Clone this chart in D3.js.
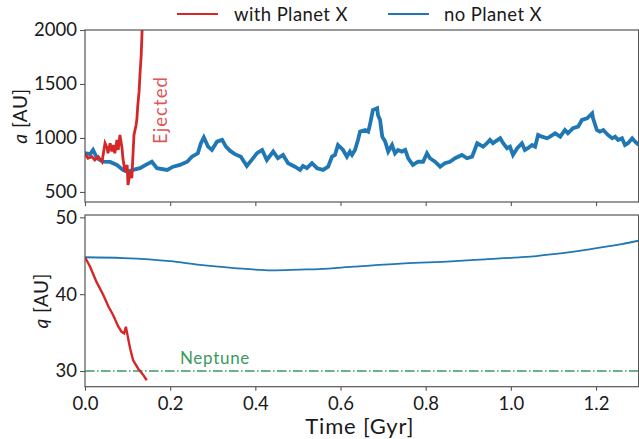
<!DOCTYPE html>
<html><head><meta charset="utf-8">
<script src="https://cdn.jsdelivr.net/npm/d3@7"></script>
<style>body{margin:0;background:#fff}svg{display:block;font-family:Lato,"Open Sans",sans-serif}</style>
</head><body><svg id="c" width="639" height="439"></svg>
<script>
// ---- data ----
const tBlueA = [0,0.002,0.012,0.019,0.028,0.035,0.042,0.059,0.075,0.089,0.099,0.113,0.129,0.146,0.157,0.169,0.193,0.207,0.223,0.240,0.251,0.265,0.272,0.279,0.289,0.298,0.310,0.322,0.331,0.341,0.352,0.366,0.380,0.392,0.404,0.416,0.427,0.442,0.453,0.465,0.477,0.493,0.505,0.512,0.521,0.533,0.545,0.559,0.571,0.580,0.587,0.594,0.606,0.615,0.622,0.627,0.634,0.641,0.646,0.658,0.665,0.669,0.676,0.686,0.688,0.693,0.698,0.705,0.712,0.721,0.728,0.735,0.744,0.752,0.759,0.770,0.782,0.794,0.803,0.810,0.822,0.834,0.845,0.857,0.869,0.885,0.897,0.909,0.921,0.928,0.935,0.944,0.951,0.958,0.963,0.975,0.982,0.991,0.998,1.005,1.015,1.026,1.033,1.040,1.050,1.057,1.064,1.073,1.085,1.092,1.104,1.116,1.127,1.134,1.146,1.158,1.167,1.179,1.191,1.193,1.202,1.209,1.217,1.228,1.238,1.245,1.252,1.261,1.268,1.275,1.285,1.292,1.300];
const aBlue = [850,858,850,889,815,796,780,778,750,704,688,704,720,757,780,720,704,734,750,780,827,858,950,1005,920,890,966,982,920,880,850,827,741,800,860,889,796,874,812,843,766,734,704,741,720,766,720,704,734,827,843,935,889,827,874,843,889,982,1059,1074,1059,1120,1259,1275,1213,1167,1012,966,874,935,858,889,874,889,812,750,780,780,858,812,780,734,766,780,812,843,812,827,951,935,920,951,982,951,966,997,951,905,920,843,905,951,889,905,935,920,1028,1012,997,1012,1043,1012,1074,1043,1090,1105,1167,1182,1228,1182,1074,1059,1074,1028,997,1012,982,997,935,951,997,966,935];
const tRedA = [0,0.002,0.007,0.016,0.023,0.031,0.040,0.047,0.052,0.054,0.059,0.063,0.066,0.070,0.075,0.078,0.082,0.087,0.089,0.094,0.099,0.101,0.106,0.110,0.113,0.115,0.120,0.122,0.124,0.127,0.129,0.132,0.134,0.136];
const aRed = [860,843,812,827,796,827,780,951,905,858,951,874,935,858,982,889,1028,905,812,688,750,565,688,627,874,1028,1120,1182,1305,1429,1583,1768,1985,2150];
const tBlueQ = [0,0.09,0.2,0.27,0.35,0.44,0.505,0.55,0.63,0.75,0.86,0.94,1.02,1.06,1.10,1.18,1.26,1.30];
const qBlue = [44.8,44.7,44.3,43.8,43.4,43.1,43.2,43.27,43.57,44.0,44.27,44.53,44.79,44.96,45.2,45.8,46.5,46.95];
const tRedQ = [0,0.012,0.027,0.043,0.055,0.066,0.078,0.086,0.092,0.096,0.099,0.106,0.113,0.125,0.137,0.145];
const qRed = [44.8,43.57,41.6,39.9,38.4,37.3,35.8,35.1,34.9,35.76,34.9,32.94,31.4,30.3,29.47,28.8];
const neptuneQ = 30;
const xTicks = [0,0.2,0.4,0.6,0.8,1.0,1.2];
const aTicks = [500,1000,1500,2000];
const qTicks = [30,40,50];
const legendLabels = ["with Planet X","no Planet X"];

// ---- layout ----
const svg = d3.select("#c");
const L = 85, R = 638.6;
const top1 = 30, bot1 = 202, top2 = 215, bot2 = 386.7;
const RED = "#d62728", BLUE = "#1f77b4", GREEN = "#3a9a5c", SPINE = "#555", TXT = "#1a1a1a";
const x = d3.scaleLinear().domain([0,1.3]).range([L,R]);
const yA = d3.scaleLinear().domain([407,2000]).range([bot1,top1]);
const yQ = d3.scaleLinear().domain([27.96,50.3]).range([bot2,top2]);
const FS = "18.5px";

const defs = svg.append("defs");
defs.append("clipPath").attr("id","clipA").append("rect").attr("x",L).attr("y",top1).attr("width",R-L).attr("height",bot1-top1);
defs.append("clipPath").attr("id","clipQ").append("rect").attr("x",L).attr("y",top2).attr("width",R-L).attr("height",bot2-top2);

function styleAxis(g){
  g.select(".domain").remove();
  g.selectAll(".tick line").attr("stroke",SPINE).attr("stroke-width",1.1);
  g.selectAll(".tick text").attr("fill",TXT).style("font-size",FS).style("font-family","Lato");
}
// top panel axes
svg.append("g").attr("transform",`translate(${L},0)`).call(d3.axisLeft(yA).tickValues(aTicks).tickSize(5).tickPadding(3).tickFormat(d3.format("d"))).call(styleAxis);
svg.append("g").attr("transform",`translate(0,${bot1})`).call(d3.axisBottom(x).tickValues(xTicks).tickSize(4).tickFormat("")).call(styleAxis);
// bottom panel axes
svg.append("g").attr("transform",`translate(${L},0)`).call(d3.axisLeft(yQ).tickValues(qTicks).tickSize(5).tickPadding(3).tickFormat(d3.format("d"))).call(styleAxis);
svg.append("g").attr("transform",`translate(0,${bot2})`).call(d3.axisBottom(x).tickValues(xTicks).tickSize(4).tickPadding(6).tickFormat(d3.format(".1f"))).call(styleAxis);

// lines
const lineA = (ts,vs)=>d3.line().x((d,i)=>x(ts[i])).y(d=>yA(d))(vs);
const lineQ = (ts,vs,c)=>d3.line().x((d,i)=>x(ts[i])).y(d=>yQ(d)).curve(c||d3.curveLinear)(vs);
const gA = svg.append("g").attr("clip-path","url(#clipA)");
gA.append("path").attr("d",lineA(tBlueA,aBlue)).attr("fill","none").attr("stroke",BLUE).attr("stroke-width",3.8);
gA.append("path").attr("d",lineA(tRedA,aRed)).attr("fill","none").attr("stroke",RED).attr("stroke-width",2.8);
const gQ = svg.append("g").attr("clip-path","url(#clipQ)");
gQ.append("path").attr("d",d3.line().x(x).y(()=>yQ(neptuneQ))([0,1.3])).attr("fill","none").attr("stroke",GREEN).attr("stroke-width",1.6).attr("stroke-dasharray","9.6,2.4,1.6,2.4");
gQ.append("path").attr("d",lineQ(tBlueQ,qBlue,d3.curveMonotoneX)).attr("fill","none").attr("stroke",BLUE).attr("stroke-width",1.8);
gQ.append("path").attr("d",lineQ(tRedQ,qRed)).attr("fill","none").attr("stroke",RED).attr("stroke-width",2.4);

// spines
[[top1,bot1],[top2,bot2]].forEach(([t,b])=>{
  svg.append("rect").attr("x",L).attr("y",t).attr("width",R-L).attr("height",b-t).attr("fill","none").attr("stroke",SPINE).attr("stroke-width",1.2);
});

// annotations
svg.append("text").attr("transform",`translate(167,110) rotate(-90)`).attr("text-anchor","middle").attr("fill",RED).attr("fill-opacity",0.8).style("font-size","18.5px").style("letter-spacing","1.1px").text("Ejected");
svg.append("text").attr("x",x(0.223)).attr("y",yQ(30.9)).attr("fill",GREEN).style("font-size","17px").style("letter-spacing","0.7px").text("Neptune");

// axis labels
const al = svg.append("text").attr("transform",`translate(27,${(top1+bot1)/2}) rotate(-90)`).attr("text-anchor","middle").attr("fill",TXT).style("font-size","19px").style("letter-spacing","0.5px");
al.append("tspan").attr("font-style","italic").text("a");
al.append("tspan").text(" [AU]");
const ql = svg.append("text").attr("transform",`translate(48,${(top2+bot2)/2}) rotate(-90)`).attr("text-anchor","middle").attr("fill",TXT).style("font-size","19px").style("letter-spacing","0.5px");
ql.append("tspan").attr("font-style","italic").text("q");
ql.append("tspan").text(" [AU]");
svg.append("text").attr("x",(L+R)/2-2).attr("y",434).attr("text-anchor","middle").attr("fill",TXT).style("font-size","22px").style("letter-spacing","0.8px").text("Time [Gyr]");

// legend
const leg = [{c:RED,x0:177,tx:234},{c:BLUE,x0:388,tx:444}];
leg.forEach((d,i)=>{
  svg.append("line").attr("x1",d.x0).attr("x2",d.x0+41).attr("y1",14).attr("y2",14).attr("stroke",d.c).attr("stroke-width",2);
  svg.append("text").attr("x",d.tx).attr("y",21).attr("fill",TXT).style("font-size",FS).style("letter-spacing","0.4px").text(legendLabels[i]);
});
</script></body></html>
